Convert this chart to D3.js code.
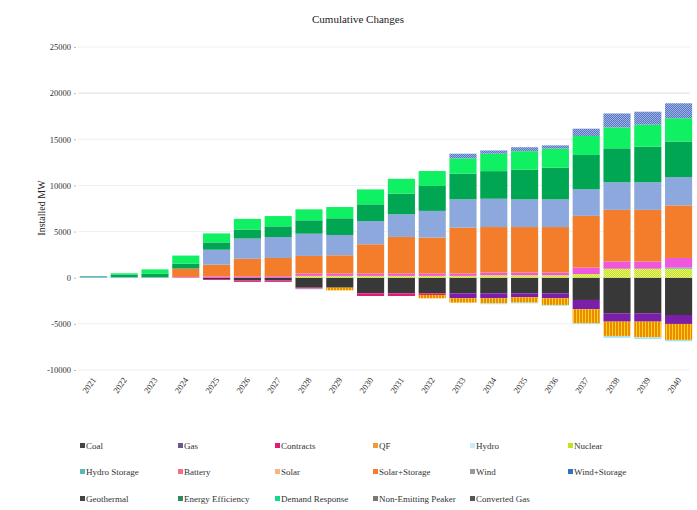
<!DOCTYPE html>
<html><head><meta charset="utf-8">
<script src="https://cdn.jsdelivr.net/npm/d3@7"></script>
<style>body{margin:0;background:#fff}svg{display:block;font-family:"Liberation Serif","DejaVu Serif",serif}</style>
</head><body><svg id="c" width="697" height="510"></svg>
<script>
const years = ["2021","2022","2023","2024","2025","2026","2027","2028","2029","2030","2031","2032","2033","2034","2035","2036","2037","2038","2039","2040"];
const yTicks = [-10000,-5000,0,5000,10000,15000,20000,25000];
const seriesNames = ["Coal","Gas","Contracts","QF","Hydro","Nuclear","Hydro Storage","Battery","Solar","Solar+Storage","Wind","Wind+Storage","Geothermal","Energy Efficiency","Demand Response","Non-Emitting Peaker","Converted Gas"];

const coal          = [0,0,0,0,-150,-300,-300,-1080,-1080,-1690,-1690,-1690,-1690,-1690,-1690,-1690,-2410,-3850,-3850,-4040];
const gas           = [0,0,0,0,0,0,0,0,0,0,0,0,-540,-540,-430,-540,-1010,-910,-910,-970];
const contracts     = [0,0,0,0,-100,-150,-150,-110,0,-290,-290,-180,0,0,0,0,0,0,0,0];
const qf            = [0,0,0,0,0,0,0,0,-290,0,0,-360,-470,-540,-580,-720,-1510,-1550,-1690,-1730];
const hydro         = [0,0,0,0,0,0,0,-80,0,0,0,0,0,-100,-80,-80,-100,-200,-200,-150];
const nuclear       = [0,0,0,0,0,0,0,200,200,200,200,200,200,270,270,270,400,970,970,970];
const hydroStorage  = [180,80,50,0,0,0,0,0,0,0,0,0,0,0,0,0,0,0,0,120];
const battery       = [0,0,0,80,150,150,160,250,250,250,250,250,250,290,290,290,710,790,790,1050];
const solar         = [0,0,0,0,0,0,0,0,0,0,0,0,0,0,0,0,0,0,0,0];
const solarStorage  = [0,0,0,910,1265,1900,1980,1910,1980,3170,3970,3900,4980,4930,4930,4930,5590,5590,5590,5700];
const wind          = [0,0,0,0,1620,2200,2270,2410,2200,2520,2450,2890,3070,3070,3000,3000,2890,2990,2990,3060];
const windStorage   = [0,0,0,0,0,0,0,0,0,0,0,0,0,0,0,0,0,0,0,0];
const geothermal    = [0,0,0,0,0,0,0,0,0,0,0,0,0,0,0,0,0,0,0,0];
const efficiency    = [0,250,370,540,790,975,1155,1450,1810,1810,2230,2700,2770,2990,3210,3430,3710,3680,3860,3860];
const demandResp    = [0,150,480,870,975,1150,1115,1190,1220,1620,1620,1620,1670,1880,2010,2060,2060,2270,2380,2520];
const nonEmitPeaker = [0,0,0,0,0,0,0,0,0,0,0,0,500,360,430,360,790,1510,1410,1620];
const convertedGas  = [0,0,0,0,0,0,0,0,0,0,0,0,0,0,0,0,0,0,0,0];

const seriesValues = [coal,gas,contracts,qf,hydro,nuclear,hydroStorage,battery,solar,solarStorage,wind,windStorage,geothermal,efficiency,demandResp,nonEmitPeaker,convertedGas];

const svg = d3.select("#c");
const defs = svg.append("defs");
function pat(id,w,h,bg,draw){const p=defs.append("pattern").attr("id",id).attr("patternUnits","userSpaceOnUse").attr("width",w).attr("height",h);p.append("rect").attr("width",w).attr("height",h).attr("fill",bg);draw(p);}
pat("pQF",3,3,"#ec8a00",p=>p.append("rect").attr("x",0).attr("width",1).attr("height",3).attr("fill","#ffd21a"));
pat("pNuc",2,2,"#c6e21e",p=>{p.append("rect").attr("width",1).attr("height",1).attr("fill","#e6f27a");p.append("rect").attr("x",1).attr("y",1).attr("width",1).attr("height",1).attr("fill","#e6f27a");});
pat("pNEP",2,2,"#5677c4",p=>{p.append("rect").attr("width",1).attr("height",1).attr("fill","#9eb1e0");p.append("rect").attr("x",1).attr("y",1).attr("width",1).attr("height",1).attr("fill","#9eb1e0");});
pat("pCG",2,2,"#666",p=>{p.append("rect").attr("width",1).attr("height",1).attr("fill","#aaa");p.append("rect").attr("x",1).attr("y",1).attr("width",1).attr("height",1).attr("fill","#aaa");});

const colors = {"Coal":"#383838","Gas":"#7b1fa8","Contracts":"#e01a7a","QF":"url(#pQF)","Hydro":"#a6e2ee","Nuclear":"url(#pNuc)","Hydro Storage":"#5ab8b8","Battery":"#f058dc","Solar":"#f8b488","Solar+Storage":"#f47d2c","Wind":"#8da8dd","Wind+Storage":"#2f72c4","Geothermal":"#444","Energy Efficiency":"#00a651","Demand Response":"#0ff062","Non-Emitting Peaker":"url(#pNEP)","Converted Gas":"url(#pCG)"};
const legendColors = Object.assign({},colors,{"QF":"#ee9a3a","Nuclear":"#c6e21e","Non-Emitting Peaker":"#777","Converted Gas":"#555","Wind":"#999","Battery":"#f0708a","Gas":"#6a5a8a","Hydro":"#c6eef4","Demand Response":"#10d890","Energy Efficiency":"#2e8a5e","Coal":"#444","Geothermal":"#444"});

const table = years.map((y,i)=>{const o={year:y};seriesNames.forEach((s,k)=>o[s]=seriesValues[k][i]);return o;});
const stack = d3.stack().keys(seriesNames).offset(d3.stackOffsetDiverging)(table);

const x = d3.scaleBand().domain(years).range([78,694]).paddingInner(0.12).paddingOuter(0.06);
const y = d3.scaleLinear().domain([-10000,25000]).range([370,47]);

// gridlines
svg.append("g").selectAll("line").data(yTicks).join("line")
  .attr("x1",78).attr("x2",690).attr("y1",d=>y(d)).attr("y2",d=>y(d))
  .attr("stroke",d=>d===20000?"#dedede":"#efefef").attr("stroke-width",1);

// y axis
const ya = svg.append("g").attr("transform","translate(76,0)").call(d3.axisLeft(y).tickValues(yTicks).tickSize(2).tickFormat(d=>String(d)));
ya.select(".domain").remove();
ya.selectAll("line").attr("stroke","#bbb");
ya.selectAll("text").attr("font-size",8.5).attr("fill","#333").attr("font-family","Liberation Serif");

// bars
svg.append("g").selectAll("g").data(stack).join("g")
  .attr("fill",d=>colors[d.key])
  .selectAll("rect").data(d=>d).join("rect")
  .attr("x",d=>x(d.data.year)).attr("width",x.bandwidth())
  .attr("y",d=>y(Math.max(d[0],d[1]))).attr("height",d=>Math.abs(y(d[0])-y(d[1])));

// x labels
svg.append("g").selectAll("text").data(years).join("text")
  .attr("transform",d=>`translate(${x(d)+x.bandwidth()/2+3},380) rotate(-55)`)
  .attr("text-anchor","end").attr("font-size",8.5).attr("fill","#333").text(d=>d);

// titles
svg.append("text").attr("x",358).attr("y",23).attr("text-anchor","middle").attr("font-size",11).attr("fill","#222").text("Cumulative Changes");
svg.append("text").attr("transform","translate(45,208) rotate(-90)").attr("text-anchor","middle").attr("font-size",10).attr("fill","#222").text("Installed MW");

// legend
const colX = [80,178,275,373,470,568], rowY=[446,472,499];
const lg = svg.append("g").selectAll("g").data(seriesNames).join("g")
  .attr("transform",(d,i)=>`translate(${colX[i%6]},${rowY[Math.floor(i/6)]})`);
lg.append("rect").attr("x",0).attr("y",-3).attr("width",5).attr("height",5).attr("fill",d=>legendColors[d]);
lg.append("text").attr("x",6).attr("y",2.5).attr("font-size",9).attr("fill","#333").text(d=>d);
</script></body></html>
